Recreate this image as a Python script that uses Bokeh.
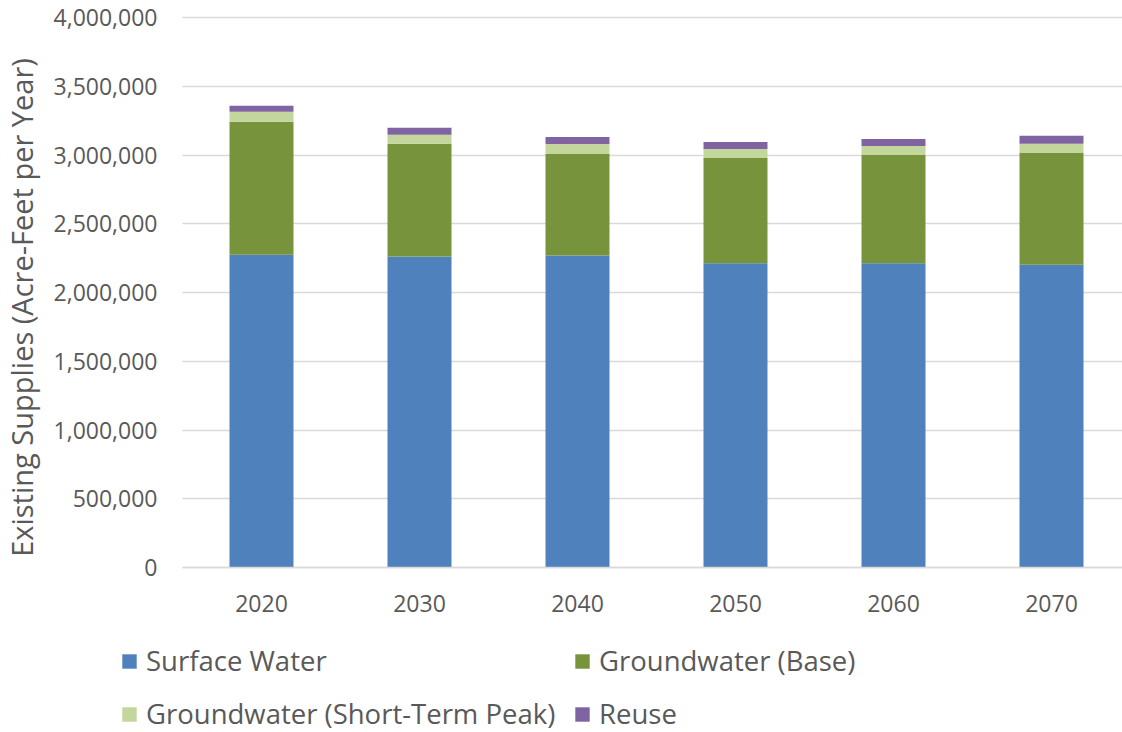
from bokeh.plotting import figure
from bokeh.models import (Range1d, FixedTicker, NumeralTickFormatter, Legend, LegendItem,
                          ColumnDataSource, BoxAnnotation)
from bokeh.embed import file_html
from bokeh.resources import INLINE

years = [2020, 2030, 2040, 2050, 2060, 2070]
surface_water = [2275000, 2261000, 2270000, 2212000, 2212000, 2202000]
groundwater_base = [966000, 820000, 737000, 766000, 788000, 813000]
groundwater_peak = [73000, 66000, 73000, 66000, 66000, 66000]
reuse = [44000, 51000, 51000, 51000, 51000, 59000]
series_names = ["Surface Water", "Groundwater (Base)", "Groundwater (Short-Term Peak)", "Reuse"]
colors = ["#4F81BD", "#77933C", "#C3D69B", "#8064A2"]
y_ticks = [0, 500000, 1000000, 1500000, 2000000, 2500000, 3000000, 3500000, 4000000]

FONT = "Open Sans"
TXT = "#595959"
GRID = "#D9D9D9"

# pixel geometry: plot area left at 182 px, zero line at 567 px, 4,000,000 line at 17 px
W, H = 1122, 732
PX_PER_YEAR = 15.8
PX_PER_UNIT = 137.5 / 1000000
x_left = 2015
x_start = x_left - 182 / PX_PER_YEAR
x_end = x_left + (W - 182) / PX_PER_YEAR
y_end = 567 / PX_PER_UNIT
y_start = -(H - 567) / PX_PER_UNIT

src = ColumnDataSource(dict(year=years, sw=surface_water, gb=groundwater_base,
                            gp=groundwater_peak, ru=reuse))

p = figure(width=W, height=H, output_backend="svg", toolbar_location=None,
           x_range=Range1d(x_start, x_end), y_range=Range1d(y_start, y_end),
           min_border_left=0, min_border_right=0, min_border_top=0, min_border_bottom=0)
p.outline_line_color = None

p.xgrid.grid_line_color = None
p.ygrid.ticker = FixedTicker(ticks=y_ticks)
p.ygrid.grid_line_color = GRID
p.ygrid.grid_line_width = 1.5
p.ygrid.level = "image"

# keep grid lines to the plot area only
p.add_layout(BoxAnnotation(left=x_start, right=x_left, fill_color="white", fill_alpha=1,
                           line_color=None, level="underlay"))

rs = p.vbar_stack(["sw", "gb", "gp", "ru"], x="year", width=4.05, source=src,
                  color=colors, line_color=None)

p.xaxis.fixed_location = 0
p.xaxis.bounds = (x_left, x_end)
p.xaxis.ticker = FixedTicker(ticks=years)
p.xaxis.major_tick_line_color = None
p.xaxis.major_tick_out = 0
p.xaxis.minor_tick_line_color = None
p.xaxis.minor_tick_out = 0
p.xaxis.axis_line_color = GRID
p.xaxis.axis_line_width = 1.5
p.xaxis.major_label_text_font = FONT
p.xaxis.major_label_text_font_size = "23px"
p.xaxis.major_label_text_color = TXT
p.xaxis.major_label_standoff = 27

p.yaxis.fixed_location = x_left
p.yaxis.bounds = (-220000, 4000000)
p.yaxis.ticker = FixedTicker(ticks=y_ticks)
p.yaxis.formatter = NumeralTickFormatter(format="0,0")
p.yaxis.major_tick_line_color = None
p.yaxis.major_tick_out = 0
p.yaxis.minor_tick_line_color = None
p.yaxis.minor_tick_out = 0
p.yaxis.axis_line_color = None
p.yaxis.major_label_text_font = FONT
p.yaxis.major_label_text_font_size = "23px"
p.yaxis.major_label_text_color = TXT
p.yaxis.major_label_standoff = 25
p.yaxis.axis_label = "Existing Supplies (Acre-Feet per Year)"
p.yaxis.axis_label_text_font = FONT
p.yaxis.axis_label_text_font_size = "29px"
p.yaxis.axis_label_text_font_style = "normal"
p.yaxis.axis_label_text_color = TXT
p.yaxis.axis_label_standoff = 10

legend = Legend(items=[LegendItem(label=series_names[i], renderers=[rs[i]]) for i in range(4)],
                orientation="horizontal", ncols=2, location=(120, 0),
                border_line_color=None, background_fill_alpha=0, padding=0, margin=0,
                label_text_font=FONT, label_text_font_size="27.5px", label_text_color=TXT,
                glyph_width=18, glyph_height=18, label_standoff=8, label_height=30,
                label_width=411, spacing=16)
p.add_layout(legend, "center")

open("out.html", "w").write(file_html(p, INLINE))
